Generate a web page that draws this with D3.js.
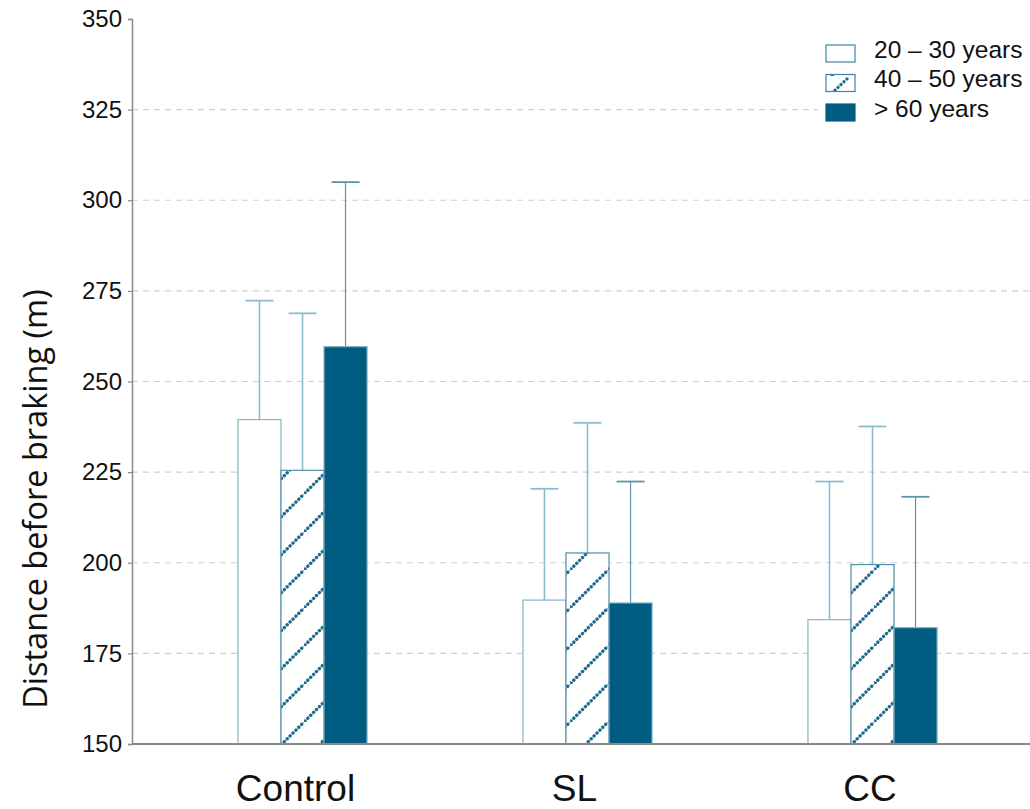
<!DOCTYPE html>
<html>
<head>
<meta charset="utf-8">
<script src="https://cdn.jsdelivr.net/npm/d3@7"></script>
<style>
  html, body { margin: 0; padding: 0; background: #fff; overflow: hidden; }
  svg { display: block; }
</style>
</head>
<body>
<svg id="chart" width="1030" height="809"></svg>
<script>
// Braking distance by condition and age group (mean + SD)
const categories = ["Control", "SL", "CC"];
const groups = ["20 – 30 years", "40 – 50 years", "> 60 years"];
const meanYoung  = [239.5, 189.7, 184.3];
const meanMiddle = [225.5, 202.7, 199.5];
const meanOld    = [259.6, 188.9, 182.1];
const upperYoung  = [272.3, 220.4, 222.4];
const upperMiddle = [268.8, 238.6, 237.6];
const upperOld    = [305.0, 222.4, 218.2];
const yTicks = [150, 175, 200, 225, 250, 275, 300, 325, 350];

const means = [meanYoung, meanMiddle, meanOld];
const uppers = [upperYoung, upperMiddle, upperOld];

const rows = [];
categories.forEach((c, ci) => {
  groups.forEach((g, gi) => {
    rows.push({ cat: c, group: g, gi, mean: means[gi][ci], upper: uppers[gi][ci] });
  });
});

const svg = d3.select("#chart");
const dark = "#005c80";
const light = "#8fbccd";

const defs = svg.append("defs");
const pat = defs.append("pattern")
  .attr("id", "hatch")
  .attr("patternUnits", "userSpaceOnUse")
  .attr("width", 38).attr("height", 38);
pat.append("rect").attr("width", 38).attr("height", 38).attr("fill", "#fff");
pat.append("line")
  .attr("x1", -2).attr("y1", 40).attr("x2", 40).attr("y2", -2)
  .attr("stroke", "#1b6c8e").attr("stroke-width", 3.4)
  .attr("stroke-dasharray", "0.1 4").attr("stroke-linecap", "round");

const legendPat = defs.append("pattern")
  .attr("id", "hatchLegend")
  .attr("patternUnits", "userSpaceOnUse")
  .attr("x", 826).attr("y", 76)
  .attr("width", 29).attr("height", 17);
legendPat.append("rect").attr("width", 29).attr("height", 17).attr("fill", "#fff");
legendPat.append("line")
  .attr("x1", 6).attr("y1", 17).attr("x2", 23).attr("y2", 1)
  .attr("stroke", "#1b6c8e").attr("stroke-width", 3.2)
  .attr("stroke-dasharray", "0.1 4").attr("stroke-linecap", "round");

const plotLeft = 132, plotRight = 1030, plotTop = 19, plotBottom = 744;

const y = d3.scaleLinear().domain([150, 350]).range([plotBottom, plotTop]);
const x0 = d3.scaleBand().domain(categories).range([160, 1015])
  .paddingInner(0.547).paddingOuter(0.2735);
const x1 = d3.scaleBand().domain(groups).range([0, x0.bandwidth()]);

// gridlines
svg.append("g")
  .selectAll("line")
  .data(yTicks.filter(t => t > 150 && t < 350))
  .join("line")
  .attr("x1", plotLeft).attr("x2", plotRight)
  .attr("y1", d => y(d)).attr("y2", d => y(d))
  .attr("stroke", "#cfcfcf").attr("stroke-width", 1.2)
  .attr("stroke-dasharray", "6 5");

// error bars
const errColor = [light, light, "#5a93ab"];
const eb = svg.append("g");
rows.forEach(d => {
  const cx = x0(d.cat) + x1(d.group) + x1.bandwidth() / 2;
  eb.append("line")
    .attr("x1", cx).attr("x2", cx)
    .attr("y1", y(d.mean)).attr("y2", y(d.upper))
    .attr("stroke", errColor[d.gi]).attr("stroke-width", d.gi === 2 ? 1.2 : 1.6);
  eb.append("line")
    .attr("x1", cx - 14).attr("x2", cx + 14)
    .attr("y1", y(d.upper)).attr("y2", y(d.upper))
    .attr("stroke", errColor[d.gi]).attr("stroke-width", 1.8);
});

// bars
const fills = ["#ffffff", "url(#hatch)", dark];
const strokes = ["#86b4c6", "#4f8ea8", "#7fb0c4"];
svg.append("g")
  .selectAll("rect")
  .data(rows)
  .join("rect")
  .attr("x", d => x0(d.cat) + x1(d.group))
  .attr("y", d => y(d.mean))
  .attr("width", x1.bandwidth())
  .attr("height", d => y(150) - y(d.mean))
  .attr("fill", d => fills[d.gi])
  .attr("stroke", d => strokes[d.gi])
  .attr("stroke-width", 1.2);

// y axis
const yAxis = d3.axisLeft(y).tickValues(yTicks).tickSize(4).tickPadding(6);
const gy = svg.append("g").attr("transform", `translate(${plotLeft},0)`).call(yAxis);
gy.select(".domain").attr("stroke", "#8a8a8a").attr("stroke-width", 1.5);
gy.selectAll(".tick line").attr("stroke", "#8a8a8a").attr("stroke-width", 1.2);
gy.selectAll(".tick text")
  .attr("font-family", "Liberation Sans, Arial, sans-serif")
  .attr("font-size", 24).attr("fill", "#111");

// x axis baseline
svg.append("line")
  .attr("x1", plotLeft).attr("x2", plotRight)
  .attr("y1", plotBottom).attr("y2", plotBottom)
  .attr("stroke", "#8a8a8a").attr("stroke-width", 1.8);

// category labels
svg.append("g")
  .selectAll("text")
  .data(categories)
  .join("text")
  .attr("x", (d, i) => x0(d) + x0.bandwidth() / 2 + [-7, -13, -2.5][i])
  .attr("y", 800.5)
  .attr("text-anchor", "middle")
  .attr("font-family", "Liberation Sans, Arial, sans-serif")
  .attr("font-size", 37).attr("fill", "#111")
  .text(d => d);

// y axis title
svg.append("text")
  .attr("transform", "translate(47,499) rotate(-90)")
  .attr("text-anchor", "middle")
  .attr("font-family", "Open Sans, sans-serif")
  .attr("font-size", 32.5).attr("fill", "#111")
  .text("Distance before braking (m)");

// legend
const legendFills = ["#ffffff", "url(#hatchLegend)", dark];
const lg = svg.append("g");
lg.append("rect")
  .attr("x", 818).attr("y", 38)
  .attr("width", 212).attr("height", 88)
  .attr("fill", "#fff");
groups.forEach((g, i) => {
  const ly = 45 + i * 29.5;
  lg.append("rect")
    .attr("x", 826).attr("y", ly)
    .attr("width", 29).attr("height", 17)
    .attr("fill", legendFills[i])
    .attr("stroke", i === 2 ? dark : "#3f84a2").attr("stroke-width", 1.2);
  lg.append("text")
    .attr("x", 874).attr("y", ly + 12.5)
    .attr("font-family", "Liberation Sans, Arial, sans-serif")
    .attr("font-size", 24.5).attr("fill", "#111")
    .text(g);
});
</script>
</body>
</html>
